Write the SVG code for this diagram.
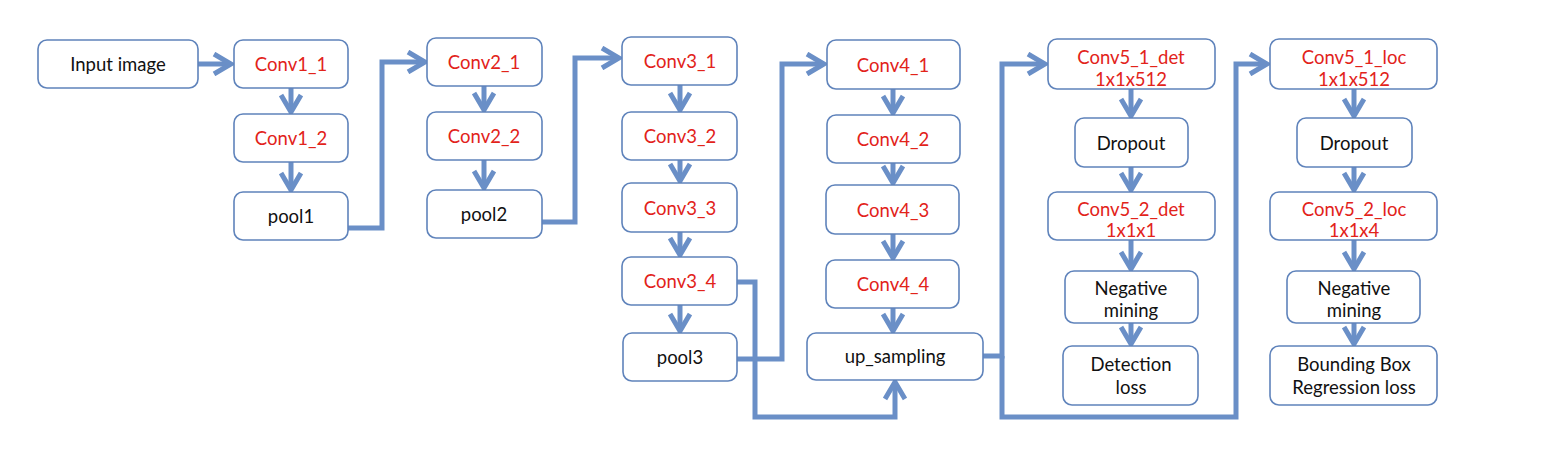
<svg xmlns="http://www.w3.org/2000/svg" width="1562" height="466" viewBox="0 0 1562 466">
<style>
.b{fill:#fff;stroke:#5f83bb;stroke-width:1.6}
.t{font-family:Lato,"Open Sans",sans-serif;font-size:18.5px;text-anchor:middle;dominant-baseline:central}
.r{fill:#e2231a}
.k{fill:#111}
.c{fill:none;stroke:#6a8fc7;stroke-width:5;stroke-linejoin:miter}
</style>
<defs>
<marker id="a" markerUnits="userSpaceOnUse" viewBox="0 0 24 24" markerWidth="24" markerHeight="24" refX="20" refY="12" orient="auto">
<path d="M3,2 L20,12 L3,22" fill="none" stroke="#6a8fc7" stroke-width="5"/>
</marker>
</defs>
<rect width="1562" height="466" fill="#fff"/>
<g id="connectors">
<path class="c" d="M198,64 H231" marker-end="url(#a)"/>
<path class="c" d="M291,88 V112" marker-end="url(#a)"/>
<path class="c" d="M291,162 V190" marker-end="url(#a)"/>
<path class="c" d="M348,228 H382 V62 H425" marker-end="url(#a)"/>
<path class="c" d="M484,86 V110" marker-end="url(#a)"/>
<path class="c" d="M484,160 V188" marker-end="url(#a)"/>
<path class="c" d="M542,222 H575 V58 H619" marker-end="url(#a)"/>
<path class="c" d="M680,85 V110" marker-end="url(#a)"/>
<path class="c" d="M680,160 V181" marker-end="url(#a)"/>
<path class="c" d="M680,232 V255" marker-end="url(#a)"/>
<path class="c" d="M680,305 V331" marker-end="url(#a)"/>
<path class="c" d="M737,282 H755 V417 H895 V382" marker-end="url(#a)"/>
<path class="c" d="M737,359 H782 V64 H824" marker-end="url(#a)"/>
<path class="c" d="M893,89 V113" marker-end="url(#a)"/>
<path class="c" d="M893,163 V183" marker-end="url(#a)"/>
<path class="c" d="M893,234 V258" marker-end="url(#a)"/>
<path class="c" d="M893,308 V331" marker-end="url(#a)"/>
<path class="c" d="M983,356 H1002 V64 H1045" marker-end="url(#a)"/>
<path class="c" d="M1002,356 V417 H1236 V64 H1267" marker-end="url(#a)"/>
<path class="c" d="M1131,89 V116" marker-end="url(#a)"/>
<path class="c" d="M1131,167 V190" marker-end="url(#a)"/>
<path class="c" d="M1131,240 V269" marker-end="url(#a)"/>
<path class="c" d="M1131,323 V344" marker-end="url(#a)"/>
<path class="c" d="M1354,89 V116" marker-end="url(#a)"/>
<path class="c" d="M1354,167 V190" marker-end="url(#a)"/>
<path class="c" d="M1354,240 V269" marker-end="url(#a)"/>
<path class="c" d="M1354,323 V344" marker-end="url(#a)"/>
</g>
<g id="input"><rect class="b" x="38" y="40" width="160" height="48" rx="9"/><text class="t k" x="118" y="64">Input image</text></g>
<g id="conv1_1"><rect class="b" x="234" y="40" width="114" height="48" rx="9"/><text class="t r" x="291" y="64">Conv1_1</text></g>
<g id="conv1_2"><rect class="b" x="234" y="114" width="114" height="48" rx="9"/><text class="t r" x="291" y="138">Conv1_2</text></g>
<g id="pool1"><rect class="b" x="234" y="192" width="114" height="48" rx="9"/><text class="t k" x="291" y="216">pool1</text></g>
<g id="conv2_1"><rect class="b" x="427" y="38" width="115" height="48" rx="9"/><text class="t r" x="484" y="62">Conv2_1</text></g>
<g id="conv2_2"><rect class="b" x="427" y="112" width="115" height="48" rx="9"/><text class="t r" x="484" y="136">Conv2_2</text></g>
<g id="pool2"><rect class="b" x="427" y="190" width="115" height="48" rx="9"/><text class="t k" x="484" y="214">pool2</text></g>
<g id="conv3_1"><rect class="b" x="622" y="37" width="115" height="48" rx="9"/><text class="t r" x="680" y="61">Conv3_1</text></g>
<g id="conv3_2"><rect class="b" x="622" y="112" width="115" height="48" rx="9"/><text class="t r" x="680" y="136">Conv3_2</text></g>
<g id="conv3_3"><rect class="b" x="622" y="183" width="115" height="49" rx="9"/><text class="t r" x="680" y="208">Conv3_3</text></g>
<g id="conv3_4"><rect class="b" x="622" y="257" width="115" height="48" rx="9"/><text class="t r" x="680" y="281">Conv3_4</text></g>
<g id="pool3"><rect class="b" x="623" y="333" width="114" height="48" rx="9"/><text class="t k" x="680" y="357">pool3</text></g>
<g id="conv4_1"><rect class="b" x="827" y="40" width="133" height="49" rx="9"/><text class="t r" x="893" y="65">Conv4_1</text></g>
<g id="conv4_2"><rect class="b" x="827" y="115" width="133" height="48" rx="9"/><text class="t r" x="893" y="139">Conv4_2</text></g>
<g id="conv4_3"><rect class="b" x="826" y="185" width="133" height="49" rx="9"/><text class="t r" x="893" y="210">Conv4_3</text></g>
<g id="conv4_4"><rect class="b" x="826" y="260" width="133" height="48" rx="9"/><text class="t r" x="893" y="284">Conv4_4</text></g>
<g id="up_sampling"><rect class="b" x="807" y="333" width="176" height="47" rx="9"/><text class="t k" x="895" y="356">up_sampling</text></g>
<g id="conv5_1_det"><rect class="b" x="1048" y="39" width="167" height="50" rx="9"/><text class="t r" x="1131" y="57">Conv5_1_det</text><text class="t r" x="1131" y="79">1x1x512</text></g>
<g id="dropout_det"><rect class="b" x="1075" y="118" width="113" height="49" rx="9"/><text class="t k" x="1131" y="143">Dropout</text></g>
<g id="conv5_2_det"><rect class="b" x="1048" y="192" width="167" height="48" rx="9"/><text class="t r" x="1131" y="209">Conv5_2_det</text><text class="t r" x="1131" y="230">1x1x1</text></g>
<g id="neg_det"><rect class="b" x="1065" y="271" width="133" height="52" rx="9"/><text class="t k" x="1131" y="288">Negative</text><text class="t k" x="1131" y="310">mining</text></g>
<g id="det_loss"><rect class="b" x="1063" y="346" width="135" height="59" rx="9"/><text class="t k" x="1131" y="364">Detection</text><text class="t k" x="1131" y="387">loss</text></g>
<g id="conv5_1_loc"><rect class="b" x="1270" y="39" width="167" height="50" rx="9"/><text class="t r" x="1354" y="57">Conv5_1_loc</text><text class="t r" x="1354" y="79">1x1x512</text></g>
<g id="dropout_loc"><rect class="b" x="1297" y="118" width="115" height="49" rx="9"/><text class="t k" x="1354" y="143">Dropout</text></g>
<g id="conv5_2_loc"><rect class="b" x="1270" y="192" width="167" height="48" rx="9"/><text class="t r" x="1354" y="209">Conv5_2_loc</text><text class="t r" x="1354" y="230">1x1x4</text></g>
<g id="neg_loc"><rect class="b" x="1287" y="271" width="133" height="52" rx="9"/><text class="t k" x="1354" y="288">Negative</text><text class="t k" x="1354" y="310">mining</text></g>
<g id="bbox_loss"><rect class="b" x="1270" y="346" width="167" height="59" rx="9"/><text class="t k" x="1354" y="364">Bounding Box</text><text class="t k" x="1354" y="387">Regression loss</text></g>
</svg>
